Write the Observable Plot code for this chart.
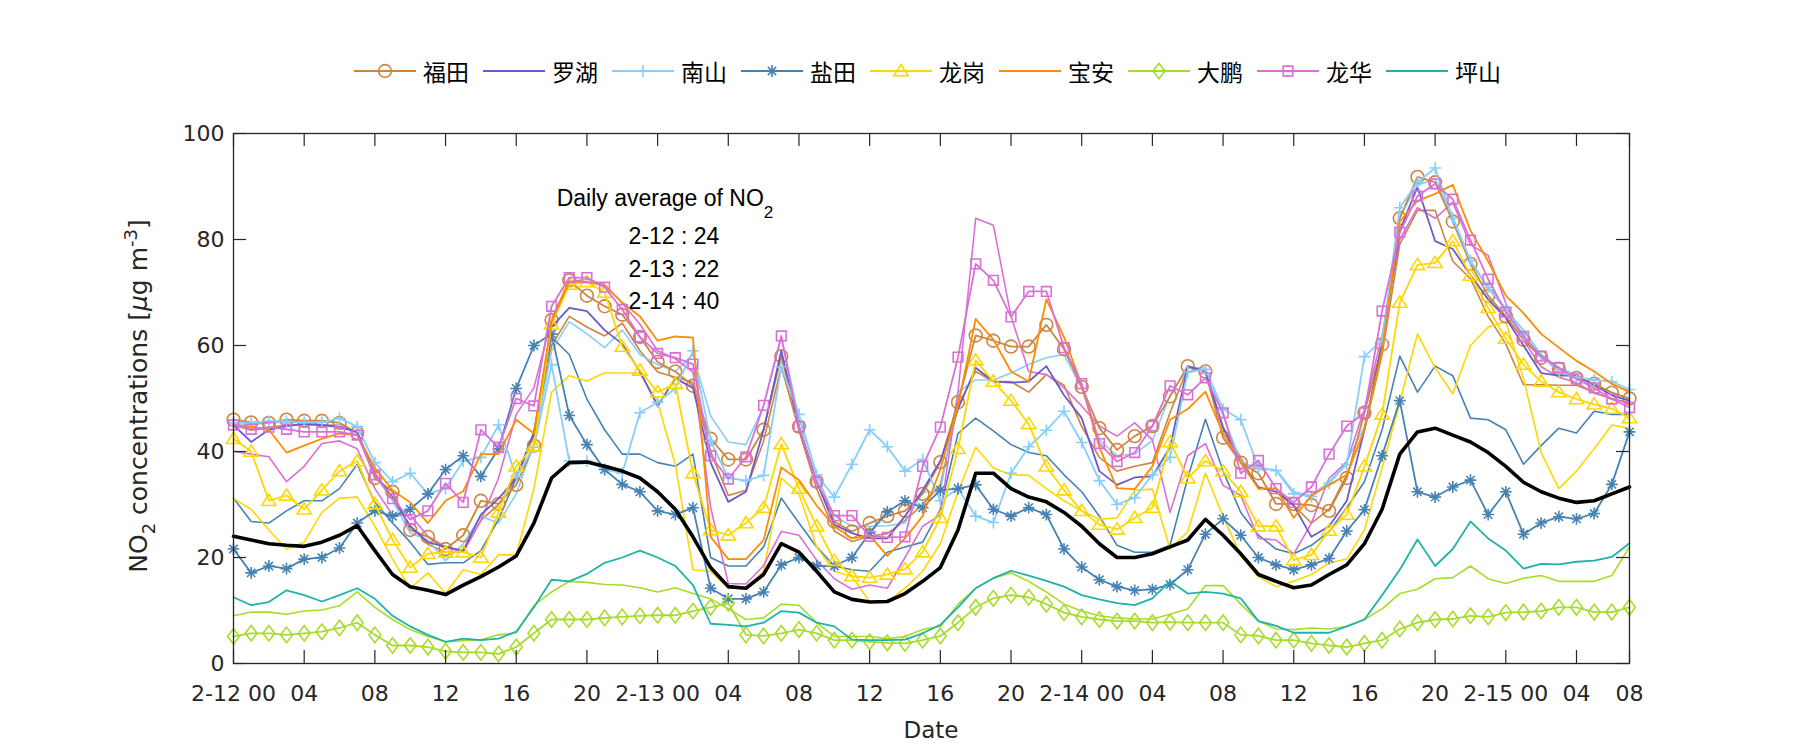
<!DOCTYPE html>
<html><head><meta charset="utf-8">
<script src="https://cdn.jsdelivr.net/npm/d3@7"></script>
<script src="https://cdn.jsdelivr.net/npm/@observablehq/plot@0.6"></script>
<style>
body{margin:0;background:#fff;width:1800px;height:750px;overflow:hidden;position:relative;}
#legend{position:absolute;left:354px;top:56px;height:30px;display:flex;align-items:center;}
.item{display:flex;align-items:center;margin-right:14px;height:30px;}
.item span{font-family:"Noto Sans CJK SC";font-size:23px;margin-left:7px;color:#000;line-height:30px;}
#chart{position:absolute;left:0;top:100px;}
</style></head><body>
<div id="legend"></div><div id="chart"></div>
<script>
// ---------- data ----------
const hours = d3.range(1, 81); // hourly index, 2-12 00 ... 2-15 07
const xTickPos = [1,5,9,13,17,21,25,29,33,37,41,45,49,53,57,61,65,69,73,77,80];
const xTickLabels = ["2-12 00","04","08","12","16","20","2-13 00","04","08","12","16","20","2-14 00","04","08","12","16","20","2-15 00","04","08"];
const yTicks = [0,20,40,60,80,100];
const dailyDays = ["2-12","2-13","2-14"];
const dailyAvg = [24,22,40];

const futian = [46.0,45.5,45.4,46.0,45.8,45.8,45.4,43.5,35.0,32.4,25.2,23.9,21.6,24.2,30.7,30.1,33.7,41.1,64.8,72.3,69.4,67.4,65.8,61.6,56.9,55.1,52.4,42.4,38.5,38.5,44.1,58.0,44.7,34.3,26.8,24.9,26.5,27.8,28.8,32.0,
 38.0,49.3,61.9,60.9,59.8,59.8,63.9,59.3,52.2,44.4,40.3,42.9,44.8,50.4,56.1,55.1,42.6,37.9,35.9,30.1,30.1,29.9,28.8,35.0,47.3,60.2,84.0,91.8,90.8,83.4,75.4,69.4,65.5,61.1,57.7,55.6,53.9,52.8,51.1,50.0];
const luohu = [45.0,41.8,44.1,44.8,45.2,45.0,44.6,43.7,35.6,31.4,25.9,22.9,22.0,21.3,28.1,31.1,35.0,43.4,63.5,67.1,66.5,62.9,60.3,55.1,48.6,53.8,52.0,37.9,30.5,32.4,44.1,59.0,44.7,34.3,26.2,24.6,23.6,23.6,27.8,32.7,
 38.2,48.0,55.8,53.2,53.0,53.2,56.1,50.6,46.3,36.3,33.7,35.1,35.3,40.8,56.1,55.1,44.4,37.9,33.3,32.4,29.8,23.9,25.9,30.7,44.1,60.3,81.7,89.9,79.7,78.2,73.3,68.7,65.2,60.0,54.8,54.3,54.3,52.5,50.6,49.6];
const nanshan = [45.4,45.4,45.7,45.7,45.5,45.5,46.3,44.7,37.9,34.3,35.9,32.0,33.0,38.2,38.9,45.0,35.3,40.8,56.4,38.2,38.2,36.6,35.9,47.3,49.3,51.9,59.0,42.0,35.0,34.5,35.5,56.0,47.0,35.6,31.4,37.6,44.1,40.9,36.3,38.5,
 30.7,33.0,27.8,26.6,35.9,40.9,44.0,47.6,41.7,34.5,30.0,31.3,35.6,38.9,55.0,55.5,48.0,46.0,37.0,36.4,32.0,31.5,34.0,37.6,57.9,61.0,86.0,90.8,93.5,84.0,76.0,71.0,67.0,62.0,58.0,55.0,54.0,53.5,53.2,51.7];
const yantian = [21.6,17.1,18.4,17.9,19.7,20.0,21.8,26.5,28.8,27.8,29.1,32.0,36.6,39.2,35.3,40.5,51.9,60.0,62.2,46.8,41.3,36.6,33.8,32.4,28.8,28.1,29.4,14.2,12.2,12.2,13.5,18.6,20.0,18.4,18.4,20.0,24.6,28.6,30.7,29.4,
 32.7,33.0,33.7,29.1,27.8,29.4,28.1,21.6,18.2,15.8,14.5,13.8,14.0,14.9,17.7,24.4,27.3,24.2,20.0,18.6,17.7,18.6,19.8,25.0,29.0,39.2,49.6,32.4,31.4,33.3,34.6,28.1,32.4,24.4,26.5,27.7,27.3,28.3,33.8,43.7];
const longgang = [42.4,40.0,30.7,31.7,29.1,32.7,36.3,38.2,30.1,23.3,18.1,20.7,21.0,21.0,20.0,28.5,37.2,41.0,64.0,71.5,72.0,70.0,59.8,55.3,51.2,52.8,35.9,25.2,24.2,26.5,29.4,41.4,33.0,25.9,19.4,16.5,16.2,16.8,17.8,21.0,
 27.5,40.5,57.2,53.2,49.6,45.2,37.2,32.7,28.8,26.2,25.3,27.5,29.4,41.8,35.0,38.2,36.3,32.4,25.9,25.9,19.5,20.5,25.1,28.1,37.2,47.0,68.1,75.2,75.6,79.7,73.2,67.1,61.3,56.4,53.2,51.2,49.9,48.9,48.1,46.3];
const baoan = [45.0,44.7,44.1,39.8,41.1,42.4,43.4,43.1,36.9,32.7,30.4,26.5,30.7,32.5,39.5,39.5,46.0,43.4,64.5,72.0,72.0,71.3,68.1,65.5,60.9,61.7,61.5,23.9,19.7,19.7,23.3,37.0,34.6,29.8,25.9,23.6,24.2,20.3,23.6,27.8,
 36.6,48.6,65.0,61.1,55.1,53.2,68.7,61.6,52.5,40.8,33.1,32.9,37.2,46.0,48.0,51.3,43.4,37.9,33.0,33.0,27.5,31.7,33.7,35.6,44.1,59.0,83.4,87.3,88.6,90.3,81.7,75.9,69.4,66.1,62.2,59.6,57.1,55.1,52.8,51.2];
const dapeng = [5.1,5.7,5.7,5.4,5.7,6.0,6.7,7.7,5.4,3.4,3.4,3.1,2.3,2.1,2.1,1.8,3.1,5.7,8.3,8.3,8.3,8.6,8.8,9.0,9.1,9.1,9.9,10.6,11.4,5.4,5.2,5.7,6.4,5.7,4.4,4.4,4.1,3.9,3.8,4.4,
 5.2,7.7,10.6,12.3,12.9,12.5,11.2,9.6,8.8,8.3,8.0,8.0,7.7,7.8,7.7,7.7,7.7,5.4,5.2,4.4,4.4,3.8,3.4,3.1,3.8,4.4,6.5,7.7,8.3,8.4,9.0,8.8,9.6,9.7,9.9,10.6,10.6,9.7,9.7,10.6];
const longhua = [45.0,44.2,44.6,44.2,43.7,43.7,43.7,43.1,35.6,31.1,27.2,28.8,34.0,30.4,44.1,40.8,50.0,48.6,67.4,72.8,72.8,71.0,66.8,61.6,58.5,57.7,56.5,39.2,34.8,39.0,48.7,61.8,44.7,34.3,27.9,27.9,24.0,23.8,23.9,37.2,
 44.6,57.8,75.4,72.3,65.4,70.2,70.2,59.6,52.8,41.5,38.1,39.8,44.8,52.4,50.7,53.9,47.3,35.9,38.3,33.0,30.4,33.3,39.5,44.8,47.3,66.5,81.4,88.2,90.5,87.6,79.9,72.5,66.3,61.7,58.0,55.8,53.7,52.0,49.9,48.3];
const pingshan = [12.5,11.0,11.6,13.8,12.9,11.7,12.9,14.2,12.2,9.0,7.0,5.4,4.1,4.7,4.4,4.7,6.0,10.6,15.8,15.5,16.9,19.0,20.0,21.3,20.0,18.4,14.8,7.5,7.3,7.0,7.7,9.9,9.6,7.7,7.0,4.5,4.4,4.4,4.5,5.7,
 7.3,10.6,14.2,16.1,17.5,16.6,15.6,14.5,12.9,12.1,11.4,11.0,12.3,15.5,13.2,13.5,13.2,12.3,8.0,7.1,5.8,5.8,5.8,7.0,8.3,12.9,17.7,23.4,18.4,21.6,26.8,23.6,21.3,17.9,18.8,18.7,19.2,19.4,20.1,22.7];
const cityMean = [24.0,23.3,22.6,22.3,22.1,22.9,24.2,26.0,21.3,16.8,14.5,13.8,13.0,14.8,16.4,18.2,20.3,26.5,35.0,37.9,38.0,37.2,36.3,35.0,32.4,29.1,23.9,18.1,14.5,14.2,16.8,22.6,21.0,17.4,13.5,12.1,11.6,11.7,13.2,15.5,
 18.1,25.2,35.9,35.9,33.0,31.4,30.5,28.5,25.9,22.6,20.0,20.0,20.7,22.0,23.3,27.2,24.2,20.7,16.8,15.5,14.3,14.8,16.8,18.6,22.6,29.1,39.5,43.7,44.4,43.1,41.8,39.8,37.2,34.2,32.4,31.2,30.4,30.7,32.0,33.3];
// second (unmarked) curves for some districts
const futianB = [45.0,44.0,44.5,45.0,45.0,45.0,45.0,43.5,36.0,31.0,26.0,22.5,21.0,21.0,27.0,30.0,35.0,43.0,60.0,65.5,63.5,61.8,64.2,59.0,55.0,54.0,53.0,40.0,31.7,32.7,42.0,56.0,44.0,33.0,25.0,23.0,24.0,24.5,27.0,30.0,
 33.7,48.6,55.1,53.2,53.2,51.2,54.5,52.5,44.7,38.9,36.3,37.2,37.9,47.3,55.8,55.1,44.7,38.9,33.0,33.0,29.8,26.5,29.1,35.6,44.1,58.3,79.1,85.5,85.5,75.9,72.6,65.5,60.3,52.6,52.6,52.5,52.5,51.2,49.9,49.3];
const nanshanB = [45.0,45.0,45.5,45.5,45.5,45.0,45.0,43.5,35.6,30.7,24.6,23.3,19.4,22.6,27.8,26.5,32.0,41.5,59.0,64.5,62.2,59.6,62.9,58.3,56.4,55.1,58.3,46.7,41.8,41.3,48.6,61.6,46.3,35.6,27.8,25.9,25.9,26.0,26.5,32.4,
 32.4,51.2,53.5,53.5,54.8,56.4,57.7,58.3,51.9,42.1,39.2,39.5,42.1,50.6,55.8,55.8,46.7,38.2,36.6,36.6,32.4,31.7,34.3,38.2,44.7,59.6,84.3,90.2,91.5,84.3,75.9,70.7,66.8,62.9,58.3,55.8,54.5,52.5,51.2,49.9];
const yantianB = [31.2,26.8,26.5,28.8,30.7,30.7,33.0,37.6,30.4,26.5,22.9,18.7,19.0,19.0,21.3,27.2,35.0,43.7,61.6,58.3,49.9,44.1,39.5,39.5,37.9,37.2,39.5,20.0,18.4,18.4,22.0,31.2,26.5,22.0,18.4,17.7,17.4,21.0,22.0,22.9,
 29.1,43.4,46.3,43.9,41.3,39.8,39.2,35.6,32.4,27.8,22.3,21.0,21.0,22.3,35.0,46.1,36.3,28.5,24.2,21.6,20.7,22.3,24.9,29.4,34.3,44.1,58.0,51.2,56.1,54.3,46.3,46.0,44.1,37.6,41.1,44.4,43.5,47.6,47.0,47.0];
const longgangB = [31.1,29.1,25.2,21.6,22.9,28.5,31.2,31.4,25.9,19.7,14.2,17.1,13.2,17.7,16.8,20.5,20.5,33.0,51.2,54.3,53.3,54.8,54.8,54.8,49.3,37.6,17.7,17.4,14.2,14.2,17.4,35.0,32.0,22.0,17.4,16.4,11.7,11.6,14.2,17.4,
 22.6,32.4,40.8,36.9,35.6,35.5,33.0,30.7,28.8,27.2,27.5,32.7,32.9,21.6,24.9,35.9,27.8,20.3,16.4,14.5,15.5,16.8,19.0,19.7,25.2,36.9,49.3,62.2,55.8,50.9,60.0,63.5,64.5,53.8,39.8,33.0,36.3,40.5,45.0,44.4];
const dapengB = [9.0,9.7,9.7,9.3,9.9,10.1,10.9,13.5,10.6,8.3,6.4,5.1,4.1,4.3,4.5,5.4,5.8,10.9,13.5,15.5,15.3,14.9,14.8,14.3,13.5,14.3,13.2,12.2,10.3,8.3,8.6,11.2,11.0,7.7,5.1,5.1,5.1,4.7,5.1,6.4,
 7.0,11.2,14.2,16.1,17.1,15.5,13.5,11.2,9.9,9.0,8.6,8.4,8.4,9.3,10.3,14.7,14.7,11.2,8.0,6.5,6.4,6.7,6.5,7.0,8.3,10.3,13.2,14.0,16.0,16.2,18.4,16.0,15.1,16.1,16.6,15.5,15.5,15.5,16.6,22.0];
const longhuaB = [40.0,39.5,39.0,34.3,37.2,41.5,42.0,40.5,33.0,28.0,28.0,24.0,22.0,21.0,27.0,35.0,47.0,52.0,65.0,72.0,72.5,71.5,68.0,64.0,59.0,57.5,55.0,29.5,15.1,15.0,18.5,24.9,24.2,19.5,16.0,14.0,14.8,14.2,20.0,25.9,
 28.0,51.2,84.0,82.7,65.5,55.1,54.5,52.0,48.6,44.8,42.9,45.4,42.2,28.5,39.2,41.5,33.6,31.7,23.6,23.3,20.7,26.5,35.0,38.0,48.0,62.0,80.0,86.0,84.0,87.0,79.0,77.0,68.0,61.0,56.0,54.0,53.0,51.0,50.0,49.0];

const districtNames = ["福田","罗湖","南山","盐田","龙岗","宝安","大鹏","龙华","坪山"];
const districtValues = [futian,luohu,nanshan,yantian,longgang,baoan,dapeng,longhua,pingshan];
const districtColors = ["#CD853F","#6A5ACD","#87CEFA","#4682B4","#FFD700","#FF8C00","#A6DC2A","#DA70D6","#20B2AA"];
const extraValues = [futianB,nanshanB,yantianB,longgangB,dapengB,longhuaB];
const extraColors = ["#CD853F","#87CEFA","#4682B4","#FFD700","#A6DC2A","#DA70D6"];

// ---------- marker shapes (MATLAB-like) ----------
const rad = s => Math.sqrt(s / Math.PI);
const mPlus = {draw(c, s){const r=rad(s)*0.95; c.moveTo(-r,0);c.lineTo(r,0);c.moveTo(0,-r);c.lineTo(0,r);}};
const mAst = {draw(c, s){const r=rad(s)*0.95, d=r*0.7071; c.moveTo(-r,0);c.lineTo(r,0);c.moveTo(0,-r);c.lineTo(0,r);c.moveTo(-d,-d);c.lineTo(d,d);c.moveTo(-d,d);c.lineTo(d,-d);}};
const mTri = {draw(c, s){const r=rad(s); c.moveTo(0,-r);c.lineTo(r*1.1,r*0.72);c.lineTo(-r*1.1,r*0.72);c.closePath();}};
const mDia = {draw(c, s){const r=rad(s); c.moveTo(0,-r*1.25);c.lineTo(r*0.95,0);c.lineTo(0,r*1.25);c.lineTo(-r*0.95,0);c.closePath();}};
const mSq = {draw(c, s){const r=rad(s)*0.78; c.rect(-r,-r,2*r,2*r);}};
const districtSymbols = [d3.symbolCircle,null,mPlus,mAst,mTri,null,mDia,mSq,null];
const symbolR = [6.4,0,6.2,6.2,6.5,0,6.2,6.2,0];

// ---------- layout ----------
const W=1800, H=650, mL=233, mR=171, mT=33, mB=87;
const plotW = W-mL-mR, plotH = H-mT-mB, tickLen = 13;
const axisColor = "#262626";

const marks = [];
extraValues.forEach((vals,k)=>{
  marks.push(Plot.line(hours,{x:d=>d,y:d=>vals[d-1],stroke:extraColors[k],strokeWidth:1.6}));
});
districtValues.forEach((vals,k)=>{
  marks.push(Plot.line(hours,{x:d=>d,y:d=>vals[d-1],stroke:districtColors[k],strokeWidth:1.8}));
  if(districtSymbols[k]) marks.push(Plot.dot(hours,{x:d=>d,y:d=>vals[d-1],symbol:districtSymbols[k],r:symbolR[k],stroke:districtColors[k],fill:"none",strokeWidth:1.6}));
});
marks.push(Plot.line(hours,{x:d=>d,y:d=>cityMean[d-1],stroke:"#000",strokeWidth:3.6}));
marks.push(
  Plot.frame({stroke:axisColor,strokeWidth:1.3}),
  Plot.tickX(xTickPos,{x:d=>d,insetTop:plotH-tickLen,stroke:axisColor,strokeWidth:1.2}),
  Plot.tickX(xTickPos,{x:d=>d,insetBottom:plotH-tickLen,stroke:axisColor,strokeWidth:1.2}),
  Plot.tickY(yTicks,{y:d=>d,insetRight:plotW-tickLen,stroke:axisColor,strokeWidth:1.2}),
  Plot.tickY(yTicks,{y:d=>d,insetLeft:plotW-tickLen,stroke:axisColor,strokeWidth:1.2}),
  Plot.axisX(xTickPos,{tickFormat:d=>xTickLabels[xTickPos.indexOf(d)],tickSize:0,tickPadding:22,fontSize:22,label:null}),
  Plot.axisY(yTicks,{tickSize:0,tickPadding:9,fontSize:22,label:null})
);

const chart = Plot.plot({
  width:W,height:H,marginLeft:mL,marginRight:mR,marginTop:mT,marginBottom:mB,
  x:{domain:[1,80]}, y:{domain:[0,100]},
  style:{fontFamily:"DejaVu Sans",fontSize:"22px",color:axisColor,background:"white",overflow:"visible"},
  marks
});
document.getElementById("chart").appendChild(chart);

const svg = d3.select(chart);
// y label with sub/superscripts
const yl = svg.append("text").attr("transform",`translate(147,${mT+plotH/2-2}) rotate(-90)`)
  .attr("text-anchor","middle").attr("font-family","DejaVu Sans").attr("font-size",25).attr("fill",axisColor);
yl.append("tspan").text("NO");
yl.append("tspan").attr("dy",8).attr("font-size",18).text("2");
yl.append("tspan").attr("dy",-8).text(" concentrations [");
yl.append("tspan").attr("font-style","italic").text("μ");
yl.append("tspan").text("g m");
yl.append("tspan").attr("dy",-10).attr("font-size",18).text("-3");
yl.append("tspan").attr("dy",10).text("]");
// x label
svg.append("text").attr("x",mL+plotW/2).attr("y",638).attr("text-anchor","middle")
  .attr("font-family","DejaVu Sans").attr("font-size",23).attr("fill",axisColor).text("Date");
// annotation
const ann = svg.append("g").attr("font-family","Liberation Sans").attr("font-size",23).attr("fill","#000").attr("text-anchor","middle");
const t0 = ann.append("text").attr("x",665).attr("y",106);
t0.append("tspan").text("Daily average of NO");
t0.append("tspan").attr("dy",12).attr("font-size",17).text("2");
dailyDays.forEach((d,k)=>{
  ann.append("text").attr("x",674).attr("y",144+k*32.5).text(`${d} : ${dailyAvg[k]}`);
});

// legend
const legend = d3.select("#legend");
districtNames.forEach((name,k)=>{
  const item = legend.append("div").attr("class","item");
  const sv = item.append("svg").attr("width",62).attr("height",30);
  sv.append("line").attr("x1",0).attr("x2",62).attr("y1",15).attr("y2",15).attr("stroke",districtColors[k]).attr("stroke-width",2);
  if(districtSymbols[k]) sv.append("path").attr("transform","translate(31,15)")
    .attr("d",d3.symbol(districtSymbols[k],Math.PI*symbolR[k]*symbolR[k])())
    .attr("fill","none").attr("stroke",districtColors[k]).attr("stroke-width",1.6);
  item.append("span").text(name);
});
</script>
</body></html>
